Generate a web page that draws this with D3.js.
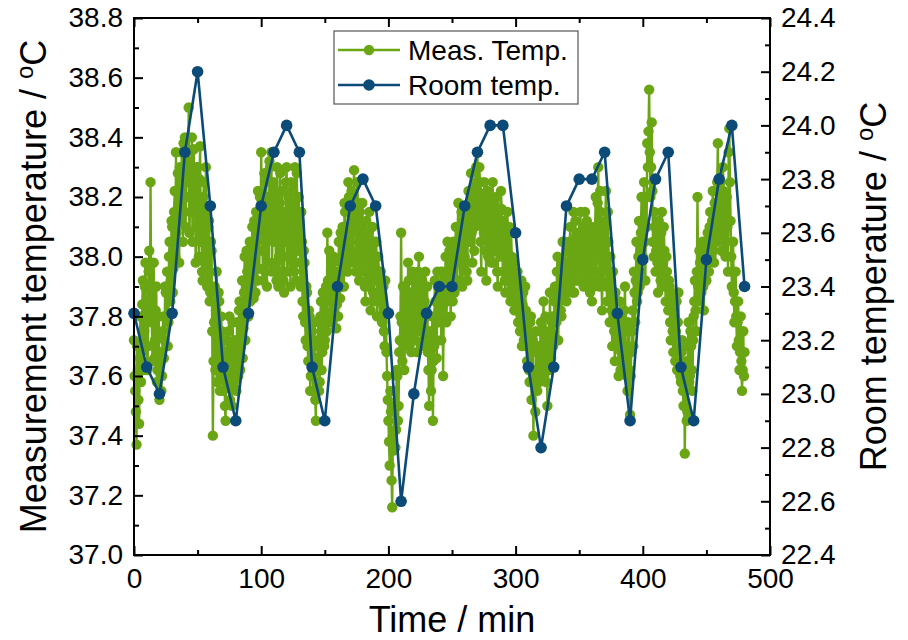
<!DOCTYPE html>
<html>
<head>
<meta charset="utf-8">
<script src="https://cdn.jsdelivr.net/npm/d3@7"></script>
<style>
  html, body { margin: 0; padding: 0; background: #fff; }
  svg { display: block; }
  text { font-family: "Liberation Sans", Arial, sans-serif; fill: #000; }
</style>
</head>
<body>
<svg id="chart" width="908" height="640"></svg>
<script>
// ---------------- DATA ----------------
// Measurement temperature, samples on whole minutes (t = 0, 1, 2, ... 480)
const measTemp = [
  37.72, 37.55, 37.37, 37.62, 37.44, 37.80, 37.68, 37.92, 37.75, 37.98,
  37.85, 37.70, 38.02, 38.25, 37.78, 37.90, 37.66, 37.82, 37.58, 37.74,
  37.52, 37.68, 37.60, 37.80, 37.72, 37.88, 37.95, 37.78, 38.05, 37.92,
  38.10, 37.96, 38.22, 38.35, 38.05, 38.18, 38.30, 38.12, 38.25, 38.38,
  38.40, 38.20, 38.32, 38.50, 38.15, 38.28, 38.05, 38.36, 38.22, 38.10,
  38.30, 38.00, 38.37, 38.18, 37.92, 38.25, 38.08, 38.15, 37.95, 38.12,
  37.88, 38.02, 37.40, 37.78, 37.62, 37.95, 37.70, 37.85, 37.60, 37.75,
  37.55, 37.68, 37.45, 37.72, 37.58, 37.80, 37.62, 37.50, 37.70, 37.56,
  37.66, 37.78, 37.60, 37.85, 37.70, 37.92, 37.76, 38.00, 37.84, 37.95,
  37.80, 38.05, 37.90, 38.10, 37.86, 38.00, 38.15, 37.92, 38.08, 38.20,
  38.35, 38.02, 38.18, 37.95, 38.25, 38.10, 37.98, 38.30, 38.35, 38.12,
  38.05, 38.22, 37.92, 38.15, 38.00, 38.28, 37.95, 38.10, 37.88, 38.05,
  38.30, 38.00, 38.18, 37.90, 38.22, 38.08, 37.95, 38.15, 38.28, 38.02,
  38.12, 37.90, 38.05, 37.80, 37.98, 37.72, 37.88, 37.65, 37.80, 37.60,
  37.75, 37.55, 37.70, 37.45, 37.62, 37.78, 37.58, 37.85, 37.68, 37.80,
  37.72, 37.90, 38.08, 37.85, 37.78, 37.95, 37.82, 38.00, 37.88, 37.76,
  37.92, 38.05, 37.86, 37.98, 38.10, 37.90, 38.15, 38.02, 37.95, 38.20,
  38.08, 38.22, 37.98, 38.29, 38.12, 38.00, 38.18, 37.92, 38.10, 38.05,
  37.95, 38.08, 37.85, 38.00, 37.90, 38.15, 37.82, 37.98, 37.88, 38.05,
  37.92, 37.80, 38.00, 37.85, 37.95, 37.78, 37.90, 37.70, 37.82, 37.60,
  37.45, 37.30, 37.48, 37.16, 37.35, 37.55, 37.42, 37.60, 37.50, 37.72,
  38.08, 37.65, 37.80, 37.70, 37.88, 37.75, 37.92, 37.82, 37.68, 37.95,
  37.85, 37.72, 37.90, 37.78, 38.00, 37.82, 37.70, 37.88, 37.76, 37.95,
  37.80, 37.68, 37.50, 37.75, 37.62, 37.45, 37.70, 37.85, 37.66, 37.90,
  37.78, 37.95, 37.82, 37.60, 37.88, 38.00, 37.85, 37.92, 38.02, 37.80,
  37.95, 38.05, 37.88, 38.10, 37.92, 38.18, 37.98, 38.08, 37.90, 38.12,
  38.00, 38.15, 37.92, 38.22, 38.05, 38.28, 37.98, 38.18, 38.10, 38.30,
  38.35, 38.12, 38.25, 37.95, 38.20, 38.08, 38.15, 37.92, 38.22, 38.05,
  38.18, 37.98, 38.25, 38.10, 38.02, 38.20, 37.90, 38.12, 38.00, 38.16,
  37.95, 38.08, 37.88, 38.02, 37.92, 38.10, 37.85, 38.00, 37.90, 37.82,
  37.95, 37.85, 37.78, 37.92, 37.80, 37.70, 37.88, 37.75, 37.82, 37.65,
  37.72, 37.58, 37.80, 37.68, 37.40, 37.62, 37.75, 37.55, 37.70, 37.60,
  37.78, 37.64, 37.85, 37.70, 37.58, 37.50, 37.75, 37.88, 37.66, 37.80,
  37.72, 37.90, 37.78, 38.00, 37.85, 37.95, 37.80, 38.05, 37.88, 37.98,
  37.85, 38.02, 37.92, 38.10, 37.95, 38.05, 37.88, 38.12, 37.98, 38.08,
  37.92, 38.15, 38.00, 38.10, 37.95, 38.05, 38.12, 37.90, 38.02, 37.96,
  37.85, 38.08, 37.92, 38.20, 38.00, 38.30, 37.90, 38.15, 37.82, 38.10,
  37.95, 38.22, 37.85, 38.05, 37.78, 37.92, 37.70, 37.88, 37.65, 37.80,
  37.72, 37.60, 37.85, 37.68, 37.78, 37.62, 37.90, 37.70, 37.55, 37.75,
  37.47, 37.68, 37.82, 37.95, 37.78, 38.05, 37.88, 38.12, 37.95, 38.20,
  38.00, 38.25, 37.92, 38.10, 38.30, 38.56, 38.20, 38.45, 38.05, 38.15,
  37.95, 38.10, 37.88, 38.05, 37.92, 38.15, 37.98, 38.02, 37.85, 37.95,
  37.82, 37.90, 37.72, 37.85, 37.68, 37.80, 37.75, 37.62, 37.88, 37.70,
  37.58, 37.72, 37.50, 37.34, 37.65, 37.48, 37.78, 37.60, 37.70, 37.55,
  37.80, 37.92, 37.75, 38.20, 37.85, 37.98, 37.88, 38.05, 37.82, 38.00,
  37.92, 38.08, 37.95, 38.15, 38.00, 38.22, 37.98, 38.12, 38.05, 38.38,
  38.10, 38.25, 38.02, 38.30, 38.15, 38.00, 38.20, 37.95, 38.43, 38.12,
  37.90, 38.05, 37.78, 37.95, 37.70, 37.85, 37.62, 37.80, 37.55, 37.75,
  37.68
];

// Measurement temperature, samples on half minutes (t = 0.5, 1.5, ... 479.5)
const measTempHalf = [
  37.60, 37.48, 37.70, 37.52, 37.66, 37.58, 37.84, 37.62, 37.90, 37.70,
  37.62, 37.95, 37.80, 37.88, 37.65, 37.98, 37.72, 37.90, 37.62, 37.80,
  37.64, 37.55, 37.75, 37.66, 37.90, 37.80, 37.70, 38.00, 37.85, 38.12,
  37.88, 38.15, 38.00, 38.08, 38.28, 37.98, 38.20, 38.35, 38.05, 38.20,
  38.10, 38.35, 38.25, 38.08, 38.30, 38.40, 38.18, 38.25, 37.98, 38.30,
  38.15, 38.26, 38.05, 37.95, 38.20, 37.98, 38.30, 37.90, 38.10, 37.85,
  38.05, 37.75, 37.65, 37.90, 37.82, 37.58, 37.88, 37.55, 37.80, 37.62,
  37.72, 37.50, 37.65, 37.60, 37.75, 37.52, 37.68, 37.78, 37.58, 37.72,
  37.55, 37.70, 37.82, 37.62, 37.78, 37.66, 37.88, 37.72, 38.02, 37.80,
  37.95, 37.85, 38.00, 37.92, 38.12, 37.88, 38.05, 38.22, 37.96, 38.10,
  38.15, 37.92, 38.28, 38.05, 37.90, 38.20, 38.32, 38.08, 37.95, 38.25,
  38.15, 37.98, 38.30, 37.90, 38.18, 38.06, 38.22, 37.92, 38.15, 38.25,
  37.95, 38.20, 38.05, 38.25, 37.98, 38.18, 38.30, 37.92, 38.10, 38.20,
  37.98, 38.15, 37.85, 38.02, 37.78, 37.90, 37.70, 37.82, 37.55, 37.72,
  37.62, 37.78, 37.52, 37.66, 37.72, 37.55, 37.80, 37.62, 37.88, 37.70,
  37.85, 37.75, 37.92, 38.02, 37.88, 37.80, 37.98, 37.86, 37.95, 37.84,
  37.80, 37.95, 38.08, 37.90, 38.02, 38.18, 37.96, 38.10, 38.25, 38.00,
  38.15, 38.02, 38.20, 38.10, 37.95, 38.25, 38.05, 38.15, 37.98, 38.18,
  38.02, 37.90, 38.12, 37.92, 38.08, 37.95, 38.02, 38.10, 37.85, 37.96,
  38.05, 37.88, 37.95, 37.80, 37.90, 37.85, 37.75, 37.92, 37.68, 37.52,
  37.38, 37.55, 37.25, 37.40, 37.50, 37.36, 37.62, 37.45, 37.68, 37.80,
  37.78, 37.90, 37.62, 37.85, 37.72, 37.98, 37.70, 37.88, 37.80, 37.72,
  37.92, 37.80, 37.68, 37.95, 37.75, 37.88, 37.92, 37.72, 37.85, 37.70,
  37.90, 37.62, 37.72, 37.55, 37.80, 37.65, 37.92, 37.72, 37.95, 37.82,
  37.88, 37.72, 37.95, 37.80, 37.92, 37.78, 38.05, 37.86, 37.90, 38.00,
  37.85, 37.98, 38.02, 37.90, 38.10, 38.00, 37.92, 38.15, 38.05, 37.96,
  38.10, 37.95, 38.12, 38.05, 38.18, 38.08, 38.22, 38.02, 38.25, 38.12,
  38.22, 38.30, 38.05, 38.18, 38.10, 38.25, 38.02, 38.15, 38.00, 38.20,
  38.08, 38.20, 37.98, 38.18, 38.12, 37.95, 38.15, 38.05, 38.22, 38.02,
  38.12, 37.92, 38.05, 38.15, 37.88, 38.00, 38.08, 37.85, 37.98, 37.92,
  37.82, 37.95, 37.88, 37.75, 37.92, 37.84, 37.72, 37.90, 37.70, 37.80,
  37.62, 37.78, 37.52, 37.72, 37.60, 37.48, 37.68, 37.62, 37.58, 37.75,
  37.62, 37.75, 37.60, 37.80, 37.66, 37.72, 37.62, 37.68, 37.78, 37.70,
  37.85, 37.80, 37.95, 37.72, 37.90, 37.82, 37.98, 37.90, 38.05, 37.88,
  37.95, 37.90, 38.05, 37.98, 37.88, 38.15, 38.00, 37.92, 38.05, 37.95,
  38.05, 37.95, 38.08, 37.90, 38.15, 37.98, 37.92, 38.08, 37.88, 38.10,
  37.98, 37.90, 38.10, 37.95, 38.18, 38.05, 38.22, 37.92, 38.05, 38.00,
  38.12, 37.90, 38.15, 37.85, 38.00, 37.82, 37.95, 37.75, 37.88, 37.70,
  37.80, 37.70, 37.62, 37.80, 37.65, 37.82, 37.68, 37.60, 37.78, 37.62,
  37.60, 37.75, 37.70, 37.88, 37.92, 37.85, 38.00, 37.90, 38.08, 38.05,
  38.12, 38.05, 38.20, 38.38, 38.42, 38.35, 38.30, 38.22, 38.00, 38.10,
  38.02, 37.98, 38.12, 37.95, 38.08, 37.90, 38.10, 37.92, 38.00, 37.85,
  37.92, 37.78, 37.88, 37.75, 37.82, 37.65, 37.85, 37.78, 37.72, 37.60,
  37.68, 37.55, 37.62, 37.50, 37.45, 37.70, 37.58, 37.75, 37.62, 37.72,
  37.85, 37.82, 37.95, 37.90, 38.02, 37.92, 37.96, 37.90, 38.05, 37.95,
  38.02, 37.98, 38.10, 38.05, 38.12, 38.02, 38.18, 38.08, 38.25, 38.15,
  38.20, 38.08, 38.18, 38.22, 38.05, 38.15, 38.10, 38.35, 38.25, 38.00,
  37.95, 37.88, 37.85, 37.80, 37.78, 37.72, 37.68, 37.65, 37.62, 37.60
];

const roomTime = [
  0, 10, 20, 30, 40, 50, 60, 70, 80, 90,
  100, 110, 120, 130, 140, 150, 160, 170, 180, 190,
  200, 210, 220, 230, 240, 250, 260, 270, 280, 290,
  300, 310, 320, 330, 340, 350, 360, 370, 380, 390,
  400, 410, 420, 430, 440, 450, 460, 470, 480
];
const roomTemp = [
  23.3, 23.1, 23.0, 23.3, 23.9, 24.2, 23.7, 23.1, 22.9, 23.3,
  23.7, 23.9, 24.0, 23.9, 23.1, 22.9, 23.4, 23.7, 23.8, 23.7,
  23.3, 22.6, 23.0, 23.3, 23.4, 23.4, 23.7, 23.9, 24.0, 24.0,
  23.6, 23.1, 22.8, 23.1, 23.7, 23.8, 23.8, 23.9, 23.3, 22.9,
  23.5, 23.8, 23.9, 23.1, 22.9, 23.5, 23.8, 24.0, 23.4
];

const xMajorTicks = [0, 100, 200, 300, 400, 500];
const xMinorTicks = [50, 150, 250, 350, 450];
const leftMajorTicks = [37.0, 37.2, 37.4, 37.6, 37.8, 38.0, 38.2, 38.4, 38.6, 38.8];
const leftMinorTicks = [37.1, 37.3, 37.5, 37.7, 37.9, 38.1, 38.3, 38.5, 38.7];
const rightMajorTicks = [22.4, 22.6, 22.8, 23.0, 23.2, 23.4, 23.6, 23.8, 24.0, 24.2, 24.4];
const rightMinorTicks = [22.5, 22.7, 22.9, 23.1, 23.3, 23.5, 23.7, 23.9, 24.1, 24.3];

const legendLabels = ["Meas. Temp.", "Room temp."];

// ---------------- LAYOUT ----------------
const L = 134, R = 770, T = 18, B = 555;
const green = "#6aa614", blue = "#0c4a77";

const svg = d3.select("#chart");
const x = d3.scaleLinear().domain([0, 500]).range([L, R]);
const yL = d3.scaleLinear().domain([37.0, 38.8]).range([B, T]);
const yR = d3.scaleLinear().domain([22.4, 24.4]).range([B, T]);

const meas = [];
measTemp.forEach((v, i) => {
  meas.push({ t: i, v });
  if (i < measTempHalf.length) meas.push({ t: i + 0.5, v: measTempHalf[i] });
});
const room = roomTime.map((t, i) => ({ t, v: roomTemp[i] }));

// Measurement series
const gMeas = svg.append("g");
gMeas.append("path")
  .datum(meas)
  .attr("fill", "none")
  .attr("stroke", green)
  .attr("stroke-width", 2.4)
  .attr("d", d3.line().x(d => x(d.t)).y(d => yL(d.v)));
gMeas.selectAll("circle").data(meas).enter().append("circle")
  .attr("cx", d => x(d.t)).attr("cy", d => yL(d.v)).attr("r", 5.2)
  .attr("fill", green);

// Room series
const gRoom = svg.append("g");
gRoom.append("path")
  .datum(room)
  .attr("fill", "none")
  .attr("stroke", blue)
  .attr("stroke-width", 2.6)
  .attr("d", d3.line().x(d => x(d.t)).y(d => yR(d.v)));
gRoom.selectAll("circle").data(room).enter().append("circle")
  .attr("cx", d => x(d.t)).attr("cy", d => yR(d.v)).attr("r", 5.8)
  .attr("fill", blue);

// ---------------- AXES ----------------
function styleAxis(g, fontSize) {
  g.select(".domain").remove();
  g.selectAll(".tick line").attr("stroke", "#000").attr("stroke-width", 2);
  g.selectAll(".tick text")
    .style("font-family", '"Liberation Sans", Arial, sans-serif')
    .style("font-size", fontSize + "px").attr("fill", "#000");
}
const fmt1 = d3.format(".1f");

// bottom
svg.append("g").attr("transform", `translate(0,${B})`)
  .call(d3.axisBottom(x).tickValues(xMajorTicks).tickSize(-9).tickPadding(13).tickFormat(d3.format("d")))
  .call(g => styleAxis(g, 28));
svg.append("g").attr("transform", `translate(0,${B})`)
  .call(d3.axisBottom(x).tickValues(xMinorTicks).tickSize(-5).tickFormat(""))
  .call(g => styleAxis(g, 28));
// top
svg.append("g").attr("transform", `translate(0,${T})`)
  .call(d3.axisTop(x).tickValues(xMajorTicks).tickSize(-9).tickFormat(""))
  .call(g => styleAxis(g, 28));
svg.append("g").attr("transform", `translate(0,${T})`)
  .call(d3.axisTop(x).tickValues(xMinorTicks).tickSize(-5).tickFormat(""))
  .call(g => styleAxis(g, 28));
// left
svg.append("g").attr("transform", `translate(${L},0)`)
  .call(d3.axisLeft(yL).tickValues(leftMajorTicks).tickSize(-9).tickPadding(11).tickFormat(fmt1))
  .call(g => styleAxis(g, 28));
svg.append("g").attr("transform", `translate(${L},0)`)
  .call(d3.axisLeft(yL).tickValues(leftMinorTicks).tickSize(-5).tickFormat(""))
  .call(g => styleAxis(g, 28));
// right
svg.append("g").attr("transform", `translate(${R},0)`)
  .call(d3.axisRight(yR).tickValues(rightMajorTicks).tickSize(-9).tickPadding(11).tickFormat(fmt1))
  .call(g => styleAxis(g, 28));
svg.append("g").attr("transform", `translate(${R},0)`)
  .call(d3.axisRight(yR).tickValues(rightMinorTicks).tickSize(-5).tickFormat(""))
  .call(g => styleAxis(g, 28));

// frame
svg.append("rect")
  .attr("x", L).attr("y", T).attr("width", R - L).attr("height", B - T)
  .attr("fill", "none").attr("stroke", "#000").attr("stroke-width", 2);

// ---------------- TITLES ----------------
svg.append("text")
  .attr("x", (L + R) / 2).attr("y", 632)
  .attr("text-anchor", "middle")
  .style("font-size", "36px")
  .text("Time / min");

function degTitle(txt, cx, cy) {
  const t = svg.append("text")
    .attr("transform", `translate(${cx},${cy}) rotate(-90)`)
    .attr("text-anchor", "middle")
    .style("font-size", "36px");
  t.append("tspan").text(txt + " / ");
  t.append("tspan").attr("dy", -13).style("font-size", "24px").text("o");
  t.append("tspan").attr("dy", 13).text("C");
}
degTitle("Measurement temperature", 46, (T + B) / 2);
degTitle("Room temperature", 886, (T + B) / 2);

// ---------------- LEGEND ----------------
const lg = svg.append("g");
lg.append("rect")
  .attr("x", 334).attr("y", 31).attr("width", 244).attr("height", 73)
  .attr("fill", "#fff").attr("stroke", "#555").attr("stroke-width", 1.2);
const legendColors = [green, blue];
legendLabels.forEach((lab, i) => {
  const cy = 50 + i * 35;
  lg.append("line").attr("x1", 338).attr("x2", 400).attr("y1", cy).attr("y2", cy)
    .attr("stroke", legendColors[i]).attr("stroke-width", i === 0 ? 2.4 : 2.6);
  lg.append("circle").attr("cx", 369).attr("cy", cy).attr("r", i === 0 ? 5.2 : 5.8)
    .attr("fill", legendColors[i]);
  lg.append("text").attr("x", 408).attr("y", cy + 10)
    .style("font-size", "28px").text(lab);
});
</script>
</body>
</html>
